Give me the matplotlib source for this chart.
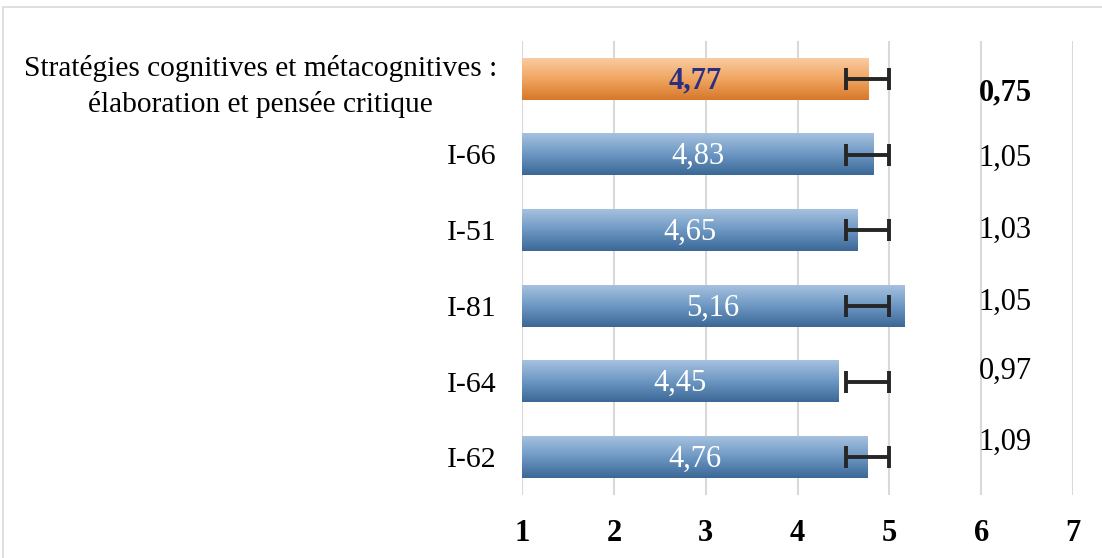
import numpy as np
import matplotlib.pyplot as plt
from matplotlib.colors import LinearSegmentedColormap
from matplotlib.patches import Rectangle

plt.rcParams['font.family'] = ['Liberation Serif', 'DejaVu Serif']

labels = ['Stratégies cognitives et métacognitives :\nélaboration et pensée critique',
          'I-66', 'I-51', 'I-81', 'I-64', 'I-62']
means = [4.77, 4.83, 4.65, 5.16, 4.45, 4.76]
sds = ['0,75', '1,05', '1,03', '1,05', '0,97', '1,09']
sd_shift = [0.18, 0.05, 0.0, -0.05, -0.13, -0.2]   # label offsets, as in the source
err_center = [4.765] * 6
err_half = 0.235

blue = LinearSegmentedColormap.from_list('b', ['#a6c1df', '#6d97c3', '#3b6896'])
orange = LinearSegmentedColormap.from_list('o', ['#f9cba0', '#f0a560', '#d6782a'])
grad = np.linspace(0, 1, 100).reshape(-1, 1)
fs = 21.5

fig = plt.figure(figsize=(11.02, 5.58), dpi=100)
fig.patches.append(Rectangle((3 / 1102, -0.1), 1.2, 1 - 7 / 558 + 0.1, transform=fig.transFigure,
                             fill=False, edgecolor='#d9d9d9', lw=1.2))
ax = fig.add_axes([522 / 1102, 1 - 495 / 558, 551 / 1102, 454 / 558])

h = 0.555
ys = np.arange(len(labels))
for y, m in zip(ys, means):
    cmap = orange if y == 0 else blue
    ax.imshow(grad, cmap=cmap, aspect='auto', extent=(1, m, y + h / 2, y - h / 2), zorder=2)

ax.errorbar(err_center, ys, xerr=err_half, fmt='none', ecolor='#262626',
            elinewidth=2.8, capsize=8, capthick=2.8, zorder=3)

for y, m in zip(ys, means):
    txt = f'{m:.2f}'.replace('.', ',')
    if y == 0:
        ax.text((1 + m) / 2, y + 0.03, txt, ha='center', va='center', fontsize=22,
                fontweight='bold', color='#2b2f84', zorder=4)
    else:
        ax.text((1 + m) / 2, y + 0.03, txt, ha='center', va='center', fontsize=22,
                color='white', zorder=4)

for y, s, d in zip(ys, sds, sd_shift):
    ax.text(6.26, y + d, s, ha='center', va='center', fontsize=22,
            fontweight='bold' if y == 0 else 'normal', color='black')

ax.set_xlim(1, 7)
ax.set_ylim(len(labels) - 0.5, -0.5)
ax.set_xticks(range(1, 8))
ax.set_yticks(ys)
ax.set_yticklabels(labels, multialignment='center', linespacing=1.45)
ax.tick_params(axis='x', length=0, pad=17, labelsize=22)
ax.tick_params(axis='y', length=0, pad=18, labelsize=fs)
ax.get_yticklabels()[0].set_fontsize(21.2)
for t in ax.get_xticklabels():
    t.set_fontweight('bold')
ax.grid(axis='x', color='#d9d9d9', lw=1.5, zorder=0)
ax.set_axisbelow(True)
for s in ax.spines.values():
    s.set_visible(False)

fig.savefig('out.png', dpi=100)
